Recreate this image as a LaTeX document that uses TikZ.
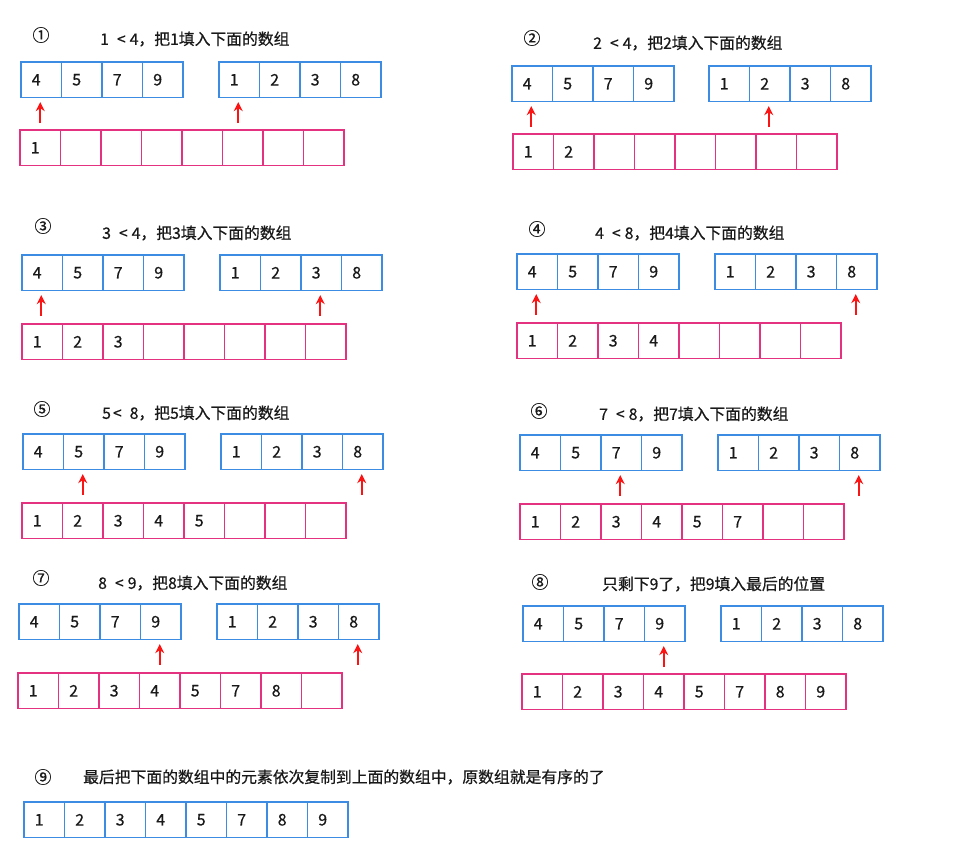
\documentclass[tikz,border=0pt]{standalone}
\usepackage{fontspec}
\setmainfont{Noto Sans CJK SC}[FakeBold=0.6]
\usetikzlibrary{arrows.meta}
\definecolor{cblue}{RGB}{60,140,228}
\definecolor{cpink}{RGB}{228,50,128}
\definecolor{cred}{RGB}{250,20,20}
\definecolor{ctext}{RGB}{25,25,25}
\newcommand\mkarr[5]{%
  \foreach \v [count=\i] in {#5} {%
    \node[#4] (#1-\i) at ({#2+(\i-0.5)*40.5},{#3+17.75}) {\v};}}
\newcommand\ptrto[2]{%
  \coordinate (#2) at ([xshift=-1pt,yshift=-25pt]#1.south);
  \draw[ptr,shorten >=4pt] (#2) -- (#2 |- #1.south);}
\newcommand\lt{\hspace{8pt}<\hspace{4pt}}
\begin{document}
\begin{tikzpicture}[x=1pt,y=-1pt,
  cell/.style={draw, line width=1.3pt, minimum height=35.5pt, text width=19pt,
    inner xsep=10.75pt, inner ysep=0pt, align=left,
    font=\fontsize{16}{16}\selectfont, text=ctext},
  bcell/.style={cell, draw=cblue},
  pcell/.style={cell, draw=cpink},
  title/.style={anchor=west, inner sep=0pt, text=ctext, font=\fontsize{15.8}{16}\selectfont},
  circ/.style={inner sep=0pt, text=ctext, font=\fontsize{17}{17}\selectfont},
  ptr/.style={draw=cred, line width=1.6pt, -{Stealth[length=9pt,width=9pt]}}]
\fill[white] (0,0) rectangle (963,860);
\useasboundingbox (0,0) rectangle (963,860);

% Panel 1
\node[circ] (c1) at (41,35) {①};
\node[title] (t1) at (100,39) {1\lt 4，把1填入下面的数组};
\mkarr{A1}{21}{62}{bcell}{4,5,7,9}
\mkarr{B1}{219}{62}{bcell}{1,2,3,8}
\mkarr{C1}{20}{130}{pcell}{1,{},{},{},{},{},{},{}}
\ptrto{A1-1}{p1a}
\ptrto{B1-1}{p1b}

% Panel 2
\node[circ] (c2) at (532,38) {②};
\node[title] (t2) at (593,43) {2\lt 4，把2填入下面的数组};
\mkarr{A2}{512}{66}{bcell}{4,5,7,9}
\mkarr{B2}{709}{66}{bcell}{1,2,3,8}
\mkarr{C2}{513}{134}{pcell}{1,2,{},{},{},{},{},{}}
\ptrto{A2-1}{p2a}
\ptrto{B2-2}{p2b}

% Panel 3
\node[circ] (c3) at (43,226) {③};
\node[title] (t3) at (102,233) {3\lt 4，把3填入下面的数组};
\mkarr{A3}{22}{255}{bcell}{4,5,7,9}
\mkarr{B3}{220}{255}{bcell}{1,2,3,8}
\mkarr{C3}{22}{324}{pcell}{1,2,3,{},{},{},{},{}}
\ptrto{A3-1}{p3a}
\ptrto{B3-3}{p3b}

% Panel 4
\node[circ] (c4) at (537,229) {④};
\node[title] (t4) at (595,233) {4\lt 8，把4填入下面的数组};
\mkarr{A4}{517}{254}{bcell}{4,5,7,9}
\mkarr{B4}{715}{254}{bcell}{1,2,3,8}
\mkarr{C4}{517}{323}{pcell}{1,2,3,4,{},{},{},{}}
\ptrto{A4-1}{p4a}
\ptrto{B4-4}{p4b}

% Panel 5
\node[circ] (c5) at (42,409) {⑤};
\node[title] (t5) at (102,413) {5\hspace{2pt}<\hspace{8pt}8，把5填入下面的数组};
\mkarr{A5}{23}{434}{bcell}{4,5,7,9}
\mkarr{B5}{221}{434}{bcell}{1,2,3,8}
\mkarr{C5}{22}{503}{pcell}{1,2,3,4,5,{},{},{}}
\ptrto{A5-2}{p5a}
\ptrto{B5-4}{p5b}

% Panel 6
\node[circ] (c6) at (539,411) {⑥};
\node[title] (t6) at (599,414) {7\lt 8，把7填入下面的数组};
\mkarr{A6}{520}{435}{bcell}{4,5,7,9}
\mkarr{B6}{718}{435}{bcell}{1,2,3,8}
\mkarr{C6}{520}{504}{pcell}{1,2,3,4,5,7,{},{}}
\ptrto{A6-3}{p6a}
\ptrto{B6-4}{p6b}

% Panel 7
\node[circ] (c7) at (41,578) {⑦};
\node[title] (t7) at (98,583) {8\lt 9，把8填入下面的数组};
\mkarr{A7}{19}{604}{bcell}{4,5,7,9}
\mkarr{B7}{217}{604}{bcell}{1,2,3,8}
\mkarr{C7}{18}{673}{pcell}{1,2,3,4,5,7,8,{}}
\ptrto{A7-4}{p7a}
\ptrto{B7-4}{p7b}

% Panel 8
\node[circ] (c8) at (540,582) {⑧};
\node[title] (t8) at (602,584) {只剩下9了，把9填入最后的位置};
\mkarr{A8}{523}{606}{bcell}{4,5,7,9}
\mkarr{B8}{721}{606}{bcell}{1,2,3,8}
\mkarr{C8}{522}{674}{pcell}{1,2,3,4,5,7,8,9}
\ptrto{A8-4}{p8a}

% Panel 9
\node[circ] (c9) at (43,777) {⑨};
\node[title] (t9) at (83,777) {最后把下面的数组中的元素依次复制到上面的数组中，原数组就是有序的了};
\mkarr{A9}{24}{802}{bcell}{1,2,3,4,5,7,8,9}
\end{tikzpicture}
\end{document}
